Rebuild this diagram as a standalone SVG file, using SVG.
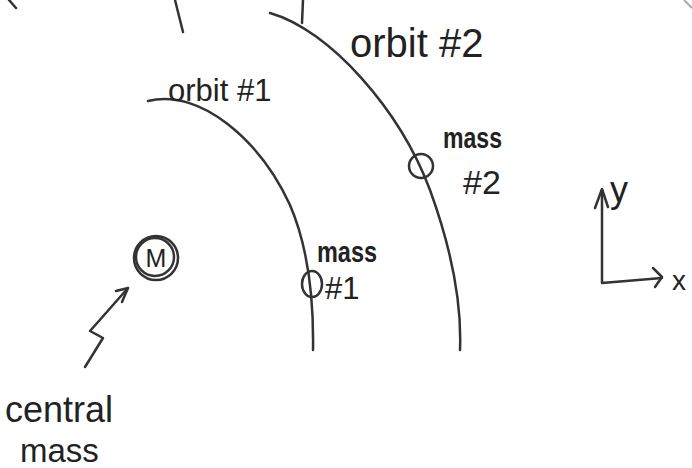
<svg xmlns="http://www.w3.org/2000/svg" width="692" height="468" viewBox="0 0 692 468">
<style>
.ln{fill:none;stroke:#333;stroke-width:2.5;stroke-linecap:round;stroke-linejoin:round}
.tx{font-family:"Liberation Sans","DejaVu Sans",sans-serif;fill:#222}
</style>
<rect width="692" height="468" fill="#fff"/>
<g id="edge-marks">
<path class="ln" d="M9,0 L16,8"/>
<path class="ln" d="M175,0 L183,32"/>
<path class="ln" d="M303,0 L302,23"/>
<path d="M684,0 L692,8" fill="none" stroke="#aaa" stroke-width="2"/>
</g>
<g id="orbit-1">
<path class="ln" d="M148,101 C200,88 260,140 290,205 C305,240 314,290 313,350"/>
<text class="tx" x="168" y="101" font-size="31">orbit #1</text>
</g>
<g id="orbit-2">
<path class="ln" d="M270,13 C330,30 400,110 430,190 C450,245 462,300 460,350"/>
<text class="tx" x="350" y="57" font-size="40">orbit #2</text>
</g>
<g id="mass-1">
<ellipse class="ln" cx="312" cy="284" rx="10" ry="13"/>
<text class="tx" x="317" y="262" font-size="30" font-weight="bold" textLength="60" lengthAdjust="spacingAndGlyphs">mass</text>
<text class="tx" x="325" y="299" font-size="31">#1</text>
</g>
<g id="mass-2">
<circle class="ln" cx="421" cy="166" r="12"/>
<text class="tx" x="443" y="148" font-size="30" font-weight="bold" textLength="59" lengthAdjust="spacingAndGlyphs">mass</text>
<text class="tx" x="463" y="194" font-size="34">#2</text>
</g>
<g id="central-mass">
<circle class="ln" cx="156" cy="258" r="22"/>
<circle class="ln" cx="155" cy="257" r="19" stroke-width="1.5"/>
<text class="tx" x="156" y="267" font-size="25" text-anchor="middle">M</text>
<text class="tx" x="5" y="422" font-size="36">central</text>
<text class="tx" x="20" y="462" font-size="33">mass</text>
</g>
<g id="connectors">
<path class="ln" d="M85,367 L103,338 L90,331 L98,322 L128,288"/>
<path class="ln" d="M116,291 L128,288 L122,302"/>
</g>
<g id="axes">
<path class="ln" d="M602,190 L602,283 L662,278"/>
<path class="ln" d="M595,208 L602,189 L608,207"/>
<path class="ln" d="M653,268 L662,277 L655,287"/>
<text class="tx" x="610" y="202" font-size="36">y</text>
<text class="tx" x="672" y="290" font-size="28">x</text>
</g>
</svg>
